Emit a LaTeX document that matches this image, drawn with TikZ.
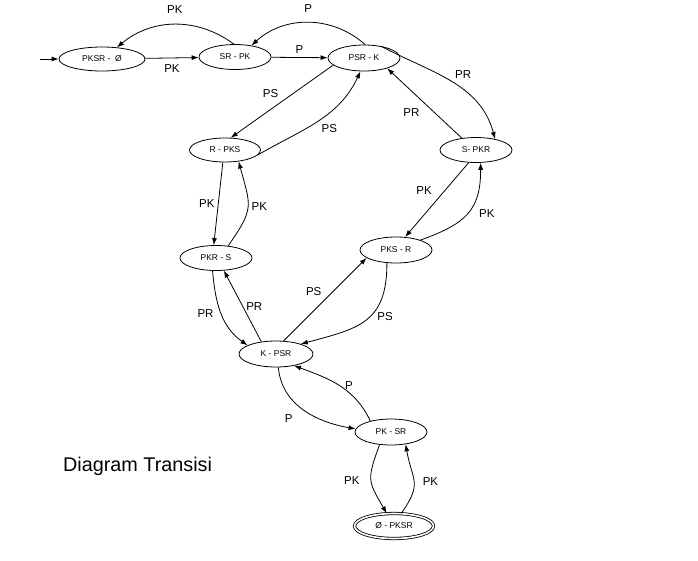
\documentclass[tikz,border=0pt]{standalone}
\usepackage{fontspec}
\setmainfont{Liberation Sans}
\usetikzlibrary{arrows.meta,shapes,positioning}
\tikzset{
    state/.style = {draw, ellipse, inner sep=1pt,
        minimum width=72pt,
        minimum height=25pt,
        font=\fontsize{8.5}{10}\selectfont},
    final/.style = {state, double, double distance=1.6pt,
        minimum width=79pt,
        minimum height=25pt},
    arrow/.style = {draw, -{Latex[length=7pt,width=5pt]}},
    lbl/.style = {font=\fontsize{11.5}{13}\selectfont}
}

\begin{document}
\begin{tikzpicture}[x=1pt,y=1pt,line width=0.8pt]
                \useasboundingbox (0,0) rectangle (698,-560);
                % states
                \node[state,minimum width=86pt,minimum height=24pt] (pksrNil) at (102,-59) {PKSR - \ Ø};
                \node[state] (srPk) at (235,-57) {SR - PK};
                \node[state,minimum height=26pt] (psrK) at (364,-58) {PSR - K};
                \node[state,minimum width=71pt,minimum height=24pt] (rPks) at (225,-150) {R - PKS};
                \node[state] (sPkr) at (476,-150) {S- PKR};
                \node[state] (pkrS) at (216,-258) {PKR - S};
                \node[state,minimum height=26pt] (pksR) at (396,-250) {PKS - R};
                \node[state,minimum width=74pt,minimum height=26pt] (kPsr) at (276,-354) {K - PSR};
                \node[state,minimum height=26pt] (pkSr) at (391,-432) {PK - SR};
                \node[final] (nilPksr) at (394,-526) {Ø - PKSR};
                \coordinate[left=19pt of pksrNil] (init);
                \node[font=\fontsize{19.8}{24}\selectfont,anchor=base west,inner sep=0pt] (title) at (62.7,-471.5) {Diagram Transisi};
                % transitions
                \draw[arrow] (init) -- (pksrNil);
                \draw[arrow] (pksrNil) -- node[lbl,below=3pt] {PK} (srPk);
                \draw[arrow] (srPk.95) to[bend right=38] node[lbl,above=7pt] {PK} (pksrNil.38);
                \draw[arrow] (srPk) -- node[lbl,above] {P} (psrK);
                \draw[arrow] (psrK.85) to[bend right=42] node[lbl,above=6pt] {P} (srPk.35);
                \draw[arrow] (psrK.35) to[out=-28,in=105] node[lbl,above right] {PR} (sPkr.30);
                \draw[arrow] (sPkr.140) -- node[lbl,below left=2pt] {PR} (psrK.-24);
                \draw[arrow] (psrK.193) -- node[lbl,above left] {PS} (rPks.65);
                \draw[arrow] (rPks.-8) to[out=30,in=-115] node[lbl,below right] {PS} (psrK.255);
                \draw[arrow] (rPks.260) -- node[lbl,left] {PK} (pkrS.100);
                \draw[arrow] (pkrS.45) to[out=55,in=-75,looseness=1.4] node[lbl,right] {PK} (rPks.-40);
                \draw[arrow] (pkrS.255) to[out=-85,in=145] node[lbl,left=4pt] {PR} (kPsr.163);
                \draw[arrow] (kPsr.140) -- node[lbl,right] {PR} (pkrS.-58);
                \draw[arrow] (kPsr.60) -- node[lbl,above left] {PS} (pksR.195);
                \draw[arrow] (pksR.235) to[out=-90,in=15,looseness=1.3] node[lbl,pos=.45,right=4pt] {PS} (kPsr.22);
                \draw[arrow] (sPkr.240) -- node[lbl,above left=2pt] {PK} (pksR.55);
                \draw[arrow] (pksR.22) to[out=20,in=-90,looseness=1.25] node[lbl,right=8pt] {PK} (sPkr.-70);
                \draw[arrow] (kPsr.-80) to[out=-85,in=170] node[lbl,pos=.45,below left=5pt] {P} (pkSr.175);
                \draw[arrow] (pkSr.152) to[out=115,in=-20] node[lbl,right=2pt] {P} (kPsr.-33);
                \draw[arrow] (pkSr.228) to[out=-110,in=120,looseness=1.4] node[lbl,left=8pt] {PK} (nilPksr.120);
                \draw[arrow] (nilPksr.60) to[out=55,in=-80,looseness=1.4] node[lbl,right=5pt] {PK} (pkSr.-40);
\end{tikzpicture}
\end{document}
